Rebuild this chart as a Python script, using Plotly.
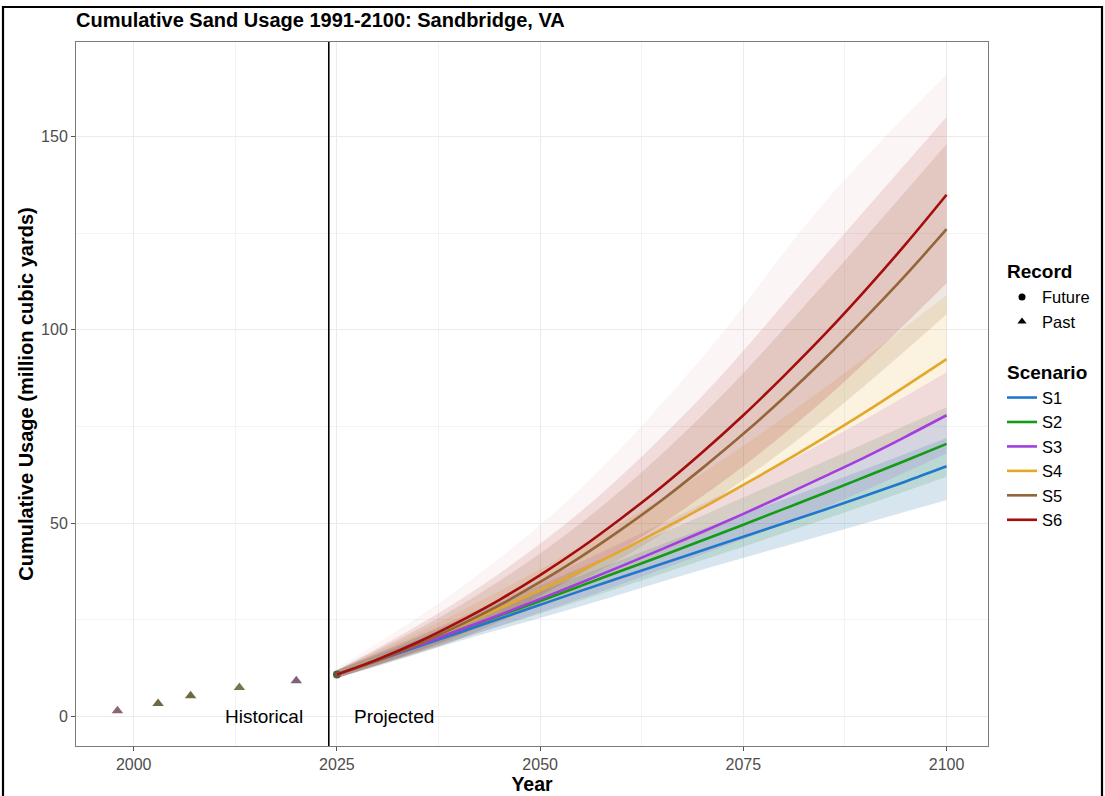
import plotly.graph_objects as go

# ---------------- data ----------------
scenarios = ["S1", "S2", "S3", "S4", "S5", "S6"]

line_years = [2025, 2030, 2035, 2040, 2045, 2050, 2055, 2060, 2065, 2070,
              2075, 2080, 2085, 2090, 2095, 2100]
s1_mean = [10.9, 14.5, 18.1, 21.7, 25.3, 28.9, 32.5, 36.0, 39.5, 43.0, 46.5, 50.0, 53.5, 57.1, 60.8, 64.7]
s2_mean = [10.9, 14.7, 18.5, 22.3, 26.1, 29.9, 33.8, 37.7, 41.6, 45.6, 49.6, 53.7, 57.8, 62.0, 66.2, 70.5]
s3_mean = [10.9, 14.6, 18.4, 22.3, 26.3, 30.4, 34.6, 38.9, 43.3, 47.8, 52.4, 57.2, 62.1, 67.1, 72.4, 77.9]
s4_mean = [10.9, 14.8, 19.0, 23.3, 27.9, 32.7, 37.7, 42.9, 48.4, 54.0, 59.9, 65.9, 72.2, 78.7, 85.5, 92.4]
s5_mean = [10.9, 14.5, 18.7, 23.5, 28.8, 34.8, 41.3, 48.4, 56.0, 64.3, 73.1, 82.5, 92.5, 103.1, 114.2, 126.0]
s6_mean = [10.9, 14.8, 19.3, 24.5, 30.2, 36.6, 43.6, 51.3, 59.5, 68.4, 77.9, 88.1, 98.8, 110.2, 122.2, 134.9]

# spread of the simulated runs (cloud), per scenario
band_years = [2025, 2040, 2055, 2070, 2085, 2100]
s1_low = [10.0, 19.5, 28.5, 38.0, 47.0, 56.0]
s1_high = [12.0, 24.0, 36.5, 48.5, 60.0, 72.0]
s2_low = [10.0, 20.0, 30.0, 40.5, 51.0, 62.0]
s2_high = [12.0, 25.0, 38.5, 52.0, 66.0, 80.0]
s3_low = [10.0, 20.0, 30.5, 42.0, 54.0, 68.0]
s3_high = [12.0, 25.5, 40.0, 55.0, 71.0, 89.0]
s4_low = [10.0, 20.5, 33.0, 47.0, 62.0, 78.0]
s4_high = [12.0, 27.0, 44.0, 63.0, 85.0, 109.0]
s5_low = [10.0, 20.0, 35.0, 54.0, 77.0, 104.0]
s5_high = [12.0, 28.5, 50.0, 78.0, 112.0, 148.0]
s6_low = [10.0, 21.0, 37.0, 57.0, 82.0, 112.0]
s6_high = [12.0, 30.0, 53.0, 83.0, 119.0, 155.0]
cloud_max = [12.5, 33.0, 59.0, 93.0, 133.0, 166.0]

past_years = [1998, 2003, 2007, 2013, 2020]
past_usage = [1.5, 3.4, 5.4, 7.5, 9.3]

x_ticks = [2000, 2025, 2050, 2075, 2100]
y_ticks = [0, 50, 100, 150]

# ---------------- styles ----------------
line_colors = ["#1f78cc", "#139b13", "#a33ddf", "#e2a82a", "#946539", "#a30d0d"]
fill_rgb = [(40, 115, 170), (30, 140, 60), (163, 61, 223), (226, 168, 42), (148, 101, 57), (163, 13, 13)]
fill_alpha = [0.19, 0.15, 0.14, 0.15, 0.15, 0.15]
past_colors = ["#8a6675", "#6f6a45", "#6e6b44", "#7a7350", "#80607a"]

means = [s1_mean, s2_mean, s3_mean, s4_mean, s5_mean, s6_mean]
lows = [s1_low, s2_low, s3_low, s4_low, s5_low, s6_low]
highs = [s1_high, s2_high, s3_high, s4_high, s5_high, s6_high]

FONT = "Liberation Sans, Arial, sans-serif"
W, H = 1105, 796
PL, PR, PT, PB = 76, 988, 42, 746  # panel edges in px

fig = go.Figure()

# legend-only entries for Record
fig.add_trace(go.Scatter(x=[None], y=[None], mode="markers", name="Future",
                         marker=dict(symbol="circle", size=7, color="black"),
                         legendgroup="record",
                         legendgrouptitle=dict(text="<b>Record</b>", font=dict(size=19, color="black"))))
fig.add_trace(go.Scatter(x=[None], y=[None], mode="markers", name="Past",
                         marker=dict(symbol="triangle-up", size=8, color="black"),
                         legendgroup="record"))

# cloud bands
for i, s in enumerate(scenarios):
    r, g, b = fill_rgb[i]
    fig.add_trace(go.Scatter(x=band_years, y=lows[i], mode="lines",
                             line=dict(width=0, shape="spline", color="rgba(0,0,0,0)"),
                             showlegend=False, hoverinfo="skip"))
    fig.add_trace(go.Scatter(x=band_years, y=highs[i], mode="lines",
                             line=dict(width=0, shape="spline", color="rgba(0,0,0,0)"),
                             fill="tonexty", fillcolor=f"rgba({r},{g},{b},{fill_alpha[i]})",
                             showlegend=False, hoverinfo="skip"))
# faint stray-run envelope
fig.add_trace(go.Scatter(x=band_years, y=s6_high, mode="lines",
                         line=dict(width=0, shape="spline", color="rgba(0,0,0,0)"),
                         showlegend=False, hoverinfo="skip"))
fig.add_trace(go.Scatter(x=band_years, y=cloud_max, mode="lines",
                         line=dict(width=0, shape="spline", color="rgba(0,0,0,0)"),
                         fill="tonexty", fillcolor="rgba(163,13,13,0.045)",
                         showlegend=False, hoverinfo="skip"))

# historical points
fig.add_trace(go.Scatter(x=past_years, y=past_usage, mode="markers",
                         marker=dict(symbol="triangle-up", size=10, color=past_colors),
                         showlegend=False))

# start point of projections
fig.add_trace(go.Scatter(x=[line_years[0]], y=[s1_mean[0]], mode="markers",
                         marker=dict(size=8, color="#5e5a3e"), showlegend=False))

# scenario mean lines
for i, s in enumerate(scenarios):
    fig.add_trace(go.Scatter(x=line_years, y=means[i], mode="lines", name=s,
                             line=dict(color=line_colors[i], width=2.6, shape="spline"),
                             legendgroup="scenario",
                             legendgrouptitle=dict(text="<b>Scenario</b>", font=dict(size=19, color="black")) if i == 0 else None))

# vertical divider
fig.add_shape(type="line", xref="x", yref="paper", x0=2024, x1=2024, y0=0, y1=1,
              line=dict(color="black", width=1.6))

# outer black frame
pw, ph = PR - PL, PB - PT
fig.add_shape(type="rect", xref="paper", yref="paper",
              x0=(3 - PL) / pw, x1=(1102 - PL) / pw,
              y0=(PB - 805) / ph, y1=(PB - 7) / ph,
              line=dict(color="black", width=2.2), layer="above")

fig.add_annotation(x=2016, y=0, text="Historical", showarrow=False,
                   font=dict(size=19, color="black", family=FONT), yanchor="middle")
fig.add_annotation(x=2032, y=0, text="Projected", showarrow=False,
                   font=dict(size=19, color="black", family=FONT), yanchor="middle")

axis_common = dict(showline=True, mirror=True, linecolor="#7a7a7a", linewidth=1,
                   ticks="outside", ticklen=4, tickcolor="#555555",
                   tickfont=dict(size=16, color="#4d4d4d", family=FONT),
                   showgrid=True, gridcolor="#ebebeb", gridwidth=1.1, zeroline=False,
                   automargin=False)

fig.update_xaxes(range=[1992.9, 2105.1], tickvals=x_ticks,
                 minor=dict(tickvals=[1987.5, 2012.5, 2037.5, 2062.5, 2087.5], showgrid=True,
                            gridcolor="#f3f3f3", gridwidth=0.8, ticks=""),
                 title=dict(text="<b>Year</b>", font=dict(size=19.5, color="black", family=FONT), standoff=4),
                 **axis_common)
fig.update_yaxes(range=[-7.6, 174.4], tickvals=y_ticks,
                 minor=dict(tickvals=[25, 75, 125], showgrid=True,
                            gridcolor="#f3f3f3", gridwidth=0.8, ticks=""),
                 title=dict(text="<b>Cumulative Usage (million cubic yards)</b>",
                            font=dict(size=20, color="black", family=FONT), standoff=2),
                 **axis_common)

fig.update_layout(
    width=W, height=H,
    margin=dict(l=PL, r=W - PR, t=PT, b=H - PB),
    paper_bgcolor="white", plot_bgcolor="white",
    font=dict(family=FONT, color="black"),
    title=dict(text="<b>Cumulative Sand Usage 1991-2100: Sandbridge, VA</b>",
               x=PL / W, xanchor="left", y=1 - 20 / H, yanchor="middle",
               font=dict(size=20, color="black", family=FONT)),
    legend=dict(xref="container", yref="container",
                x=1002 / W, xanchor="left", y=1 - 252 / H, yanchor="top",
                traceorder="grouped", tracegroupgap=24,
                font=dict(size=16.5, color="black", family=FONT),
                bgcolor="rgba(0,0,0,0)"),
    showlegend=True,
)

fig.write_html("out.html", config={"displayModeBar": False},
               post_script="document.documentElement.style.margin='0';document.body.style.margin='0';document.body.style.overflow='hidden';")
